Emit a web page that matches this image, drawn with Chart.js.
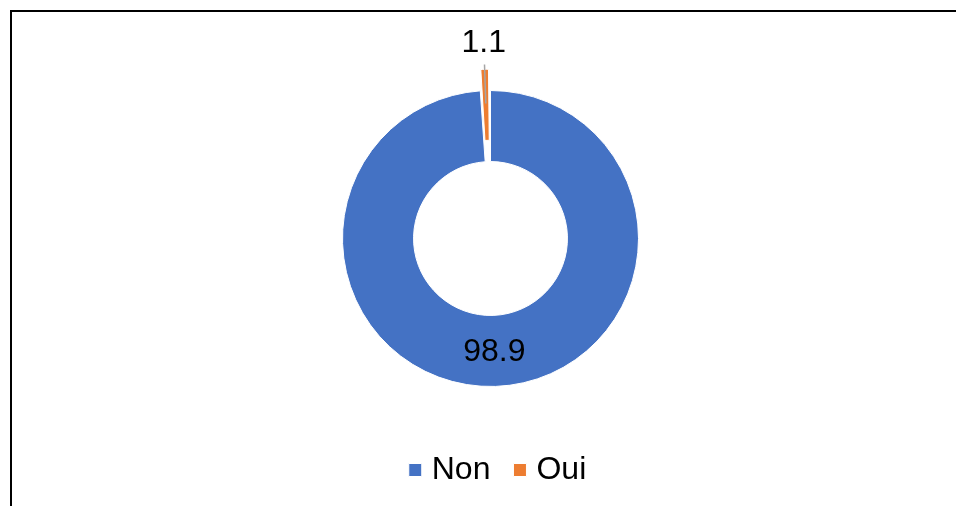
<!DOCTYPE html>
<html>
<head>
<meta charset="utf-8">
<script src="https://cdn.jsdelivr.net/npm/chart.js@4"></script>
<style>
  html, body { margin: 0; padding: 0; background: #fff; overflow: hidden; }
  #wrap { position: relative; width: 956px; height: 506px; overflow: hidden; }
  /* only the top and left edges of the frame are inside the picture */
  #frame { position: absolute; left: 10px; top: 10px; width: 1000px; height: 600px;
           border-left: 2.5px solid #000; border-top: 2px solid #000; }
  canvas { position: absolute; left: 0; top: 0; }
</style>
</head>
<body>
<div id="wrap">
  <div id="frame"></div>
  <canvas id="myChart" width="956" height="506"></canvas>
</div>
<script>
const labels = ['Non', 'Oui']
const values = [98.9, 1.1]
const colors = ['#4472C4', '#ED7D31']
// Oui slice is pulled out of the ring
const explode = [0, 44]

const FONT = '"Liberation Sans", Arial, sans-serif'

// draw the value labels (no datalabels plugin here)
const sliceLabels = {
  id: 'sliceLabels',
  afterLayout(chart) {
    // legend sits a bit right of the ring centre
    chart.legend.left += 10
    chart.legend.right += 10
  },
  afterDatasetsDraw(chart) {
    const c = chart.ctx
    const meta = chart.getDatasetMeta(0)
    c.save()
    c.font = '32px ' + FONT
    c.fillStyle = '#000'
    c.textAlign = 'center'
    c.textBaseline = 'middle'
    meta.data.forEach((arc, i) => {
      const p = arc.getProps(['x', 'y', 'startAngle', 'endAngle', 'innerRadius', 'outerRadius'], true)
      const mid = (p.startAngle + p.endAngle) / 2
      const text = values[i].toFixed(1)
      if (explode[i] > 0) {
        // outside label + grey leader line
        const r = p.outerRadius + explode[i] * 0.48
        c.strokeStyle = '#A5A5A5'
        c.lineWidth = 1.5
        c.beginPath()
        c.moveTo(p.x + Math.cos(mid) * (r + 5), p.y + Math.sin(mid) * (r + 5))
        c.lineTo(p.x + Math.cos(mid) * (r - 34), p.y + Math.sin(mid) * (r - 34))
        c.stroke()
        c.fillText(text, p.x + Math.cos(mid) * (r + 26), p.y + Math.sin(mid) * (r + 26))
      } else {
        const pt = arc.getCenterPoint()
        c.fillText(text, pt.x, pt.y + 1)
      }
    })
    c.restore()
  }
}

new Chart(document.getElementById('myChart'), {
  type: 'doughnut',
  data: {
    labels: labels,
    datasets: [{
      data: values,
      backgroundColor: colors,
      borderColor: '#fff',
      borderWidth: 1,
      offset: explode,
      radius: 148,
      cutout: '52%'
    }]
  },
  options: {
    responsive: false,
    animation: false,
    layout: { padding: { top: 52, bottom: 10, left: 25, right: 0 } },
    plugins: {
      tooltip: { enabled: false },
      legend: {
        position: 'bottom',
        labels: {
          usePointStyle: true,
          pointStyle: 'rect',
          boxWidth: 1,
          boxHeight: 13,
          padding: 29,
          color: '#000',
          font: { size: 32, family: FONT }
        }
      }
    }
  },
  plugins: [sliceLabels]
})
</script>
</body>
</html>
